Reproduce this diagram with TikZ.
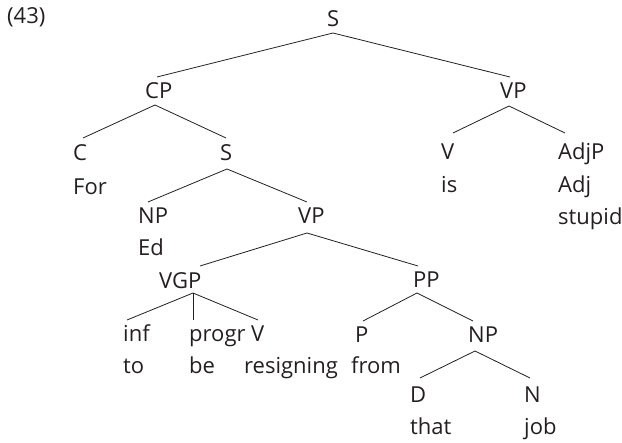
\documentclass[tikz,border=0pt]{standalone}
\usepackage{fontspec}
\setmainfont{Open Sans}
\usepackage{tikz}
\usetikzlibrary{positioning}
\definecolor{treeink}{HTML}{231F20}
\tikzset{
  cat/.style={anchor=base west, inner sep=0pt, font=\fontsize{22}{26}\selectfont, text=treeink},
  branch/.style={line width=0.8pt, draw=treeink}
}
\begin{document}
\begin{tikzpicture}[x=1pt, y=-1pt]
  \useasboundingbox (0,0) rectangle (622,443);
  % labels, placed at their left baseline
  \node[cat] (ex) at (7,24) {(43)};
  \node[cat] (s0) at (327,27) {S};
  \node[cat] (cp) at (145,99) {CP};
  \node[cat] (vp0) at (500,99) {VP};
  \node[cat] (c) at (73,161) {C};
  \node[cat] (for) at (73,195) {For};
  \node[cat] (s1) at (220,161) {S};
  \node[cat] (v0) at (441,160) {V};
  \node[cat] (is) at (441,193) {is};
  \node[cat] (adjp) at (558,160) {AdjP};
  \node[cat] (adj) at (558,193) {Adj};
  \node[cat] (stupid) at (558,225) {stupid};
  \node[cat] (np0) at (138,224) {NP};
  \node[cat] (ed) at (138,256) {Ed};
  \node[cat] (vp1) at (298,224) {VP};
  \node[cat] (vgp) at (159,289) {VGP};
  \node[cat] (pp) at (413,288) {PP};
  \node[cat] (inf) at (123,342) {inf};
  \node[cat] (to) at (123,374) {to};
  \node[cat] (progr) at (189,342) {progr};
  \node[cat] (be) at (189,374) {be};
  \node[cat] (v1) at (251,342) {V};
  \node[cat] (resigning) at (244,374) {resigning};
  \node[cat] (p) at (355,343) {P};
  \node[cat] (from) at (351,374) {from};
  \node[cat] (np1) at (468,343) {NP};
  \node[cat] (d) at (410,403) {D};
  \node[cat] (that) at (410,435) {that};
  \node[cat] (n) at (524,403) {N};
  \node[cat] (job) at (524,435) {job};
  % branches
  \draw[branch] ([shift={(6,6)}]s0.base west) -- ([shift={(12,-22)}]cp.base west);
  \draw[branch] ([shift={(6,6)}]s0.base west) -- ([shift={(10,-22)}]vp0.base west);
  \draw[branch] ([shift={(10,6)}]cp.base west) -- ([shift={(10,-23)}]c.base west);
  \draw[branch] ([shift={(10,6)}]cp.base west) -- ([shift={(6,-23)}]s1.base west);
  \draw[branch] ([shift={(9,7)}]vp0.base west) -- ([shift={(12,-27)}]v0.base west);
  \draw[branch] ([shift={(9,7)}]vp0.base west) -- ([shift={(7,-27)}]adjp.base west);
  \draw[branch] ([shift={(7,8)}]s1.base west) -- ([shift={(10,-22)}]np0.base west);
  \draw[branch] ([shift={(7,8)}]s1.base west) -- ([shift={(9,-22)}]vp1.base west);
  \draw[branch] ([shift={(9,9)}]vp1.base west) -- ([shift={(41,-23)}]vgp.base west);
  \draw[branch] ([shift={(9,9)}]vp1.base west) -- ([shift={(5,-22)}]pp.base west);
  \draw[branch] ([shift={(34,4)}]vgp.base west) -- ([shift={(4,-22)}]inf.base west);
  \draw[branch] ([shift={(34,4)}]vgp.base west) -- ([shift={(4,-22)}]progr.base west);
  \draw[branch] ([shift={(34,4)}]vgp.base west) -- ([shift={(7,-22)}]v1.base west);
  \draw[branch] ([shift={(4,5)}]pp.base west) -- ([shift={(8,-22)}]p.base west);
  \draw[branch] ([shift={(4,5)}]pp.base west) -- ([shift={(5,-22)}]np1.base west);
  \draw[branch] ([shift={(7,8)}]np1.base west) -- ([shift={(10,-25)}]d.base west);
  \draw[branch] ([shift={(7,8)}]np1.base west) -- ([shift={(6,-25)}]n.base west);
\end{tikzpicture}
\end{document}
